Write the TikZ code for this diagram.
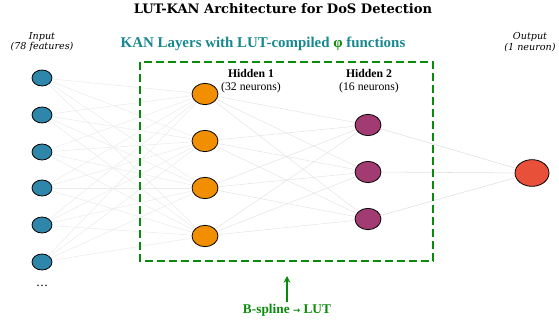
\documentclass[tikz,border=0pt]{standalone}
\usepackage{fontspec}
\setmainfont{DejaVu Serif}
\newfontfamily\headfont{Liberation Serif}
\usepackage{tikz}
\usetikzlibrary{shapes,arrows,positioning,arrows.meta}

\definecolor{inblue}{HTML}{2E86AB}
\definecolor{hidorange}{HTML}{F18F01}
\definecolor{hidplum}{HTML}{A23B72}
\definecolor{outred}{HTML}{E9503A}
\definecolor{kanteal}{HTML}{17898E}
\definecolor{boxgreen}{HTML}{0A8A0A}

\tikzset{
    neuron/.style={ellipse, draw=black, line width=0.6pt, inner sep=0pt},
    inp/.style={neuron, fill=inblue, minimum width=15pt, minimum height=12pt},
    hida/.style={neuron, fill=hidorange, minimum width=19.5pt, minimum height=16pt},
    hidb/.style={neuron, fill=hidplum, minimum width=19.5pt, minimum height=16pt},
    outp/.style={neuron, fill=outred, minimum width=25.5pt, minimum height=20pt},
    wire/.style={draw=black!10, line width=0.4pt},
    layerlbl/.style={font=\fontsize{7.2}{8.2}\selectfont\itshape, align=center},
}

\begin{document}
\begin{tikzpicture}[x=0.75pt, y=-0.75pt]
    \useasboundingbox (0,0) rectangle (559,324);

    % Title
    \node[font=\fontsize{9.8}{11}\selectfont\bfseries] (title) at (283,9) {LUT-KAN Architecture for DoS Detection};
    \node[font=\headfont\fontsize{11.2}{13}\selectfont\bfseries, text=kanteal] (kan) at (263,44)
        {KAN Layers with LUT-compiled \textcolor{boxgreen}{φ} functions};

    % Neurons
    \foreach \i/\y in {1/78, 2/115, 3/152, 4/188, 5/225, 6/262}
        \node[inp] (in\i) at (42,\y) {};
    \foreach \i/\y in {1/94, 2/141, 3/188, 4/236}
        \node[hida] (ha\i) at (205,\y) {};
    \foreach \i/\y in {1/125, 2/172, 3/219}
        \node[hidb] (hb\i) at (368,\y) {};
    \node[outp] (out) at (532,173) {};
    \node (dots) at (42,286) {\small\dots};

    % Connections
    \foreach \i in {1,...,6}
        \foreach \j in {1,...,4}
            \draw[wire, draw=black!8] (in\i) -- (ha\j);
    \foreach \i in {1,...,4}
        \foreach \j in {1,...,3}
            \draw[wire] (ha\i) -- (hb\j);
    \foreach \j in {1,...,3}
        \draw[wire, draw=black!13] (hb\j) -- (out);

    % KAN box
    \draw[boxgreen, line width=1.5pt, dash pattern=on 6pt off 3pt] (140,62) rectangle (433,261);
    \coordinate (arrowfoot) at (287,302);
    \coordinate (arrowtip) at (287,276);
    \draw[boxgreen, line width=1.3pt, -{Stealth[length=5pt, width=5pt]}] (arrowfoot) -- (arrowtip);
    \node[font=\headfont\fontsize{10}{11}\selectfont\bfseries, text=boxgreen] (bsp) at (287,310) {B-spline {\fontspec{DejaVu Sans}\fontsize{6.5}{7}\selectfont →} LUT};

    % Layer labels
    \node[layerlbl] (inlbl) at (42,42) {Input\\(78 features)};
    \node[layerlbl] (outlbl) at (530,42) {Output\\(1 neuron)};
    \node[font=\headfont\fontsize{8.8}{10}\selectfont, align=center] (h1lbl) at (251,81) {\textbf{Hidden 1}\\(32 neurons)};
    \node[font=\headfont\fontsize{8.8}{10}\selectfont, align=center] (h2lbl) at (369,81) {\textbf{Hidden 2}\\(16 neurons)};
\end{tikzpicture}
\end{document}
